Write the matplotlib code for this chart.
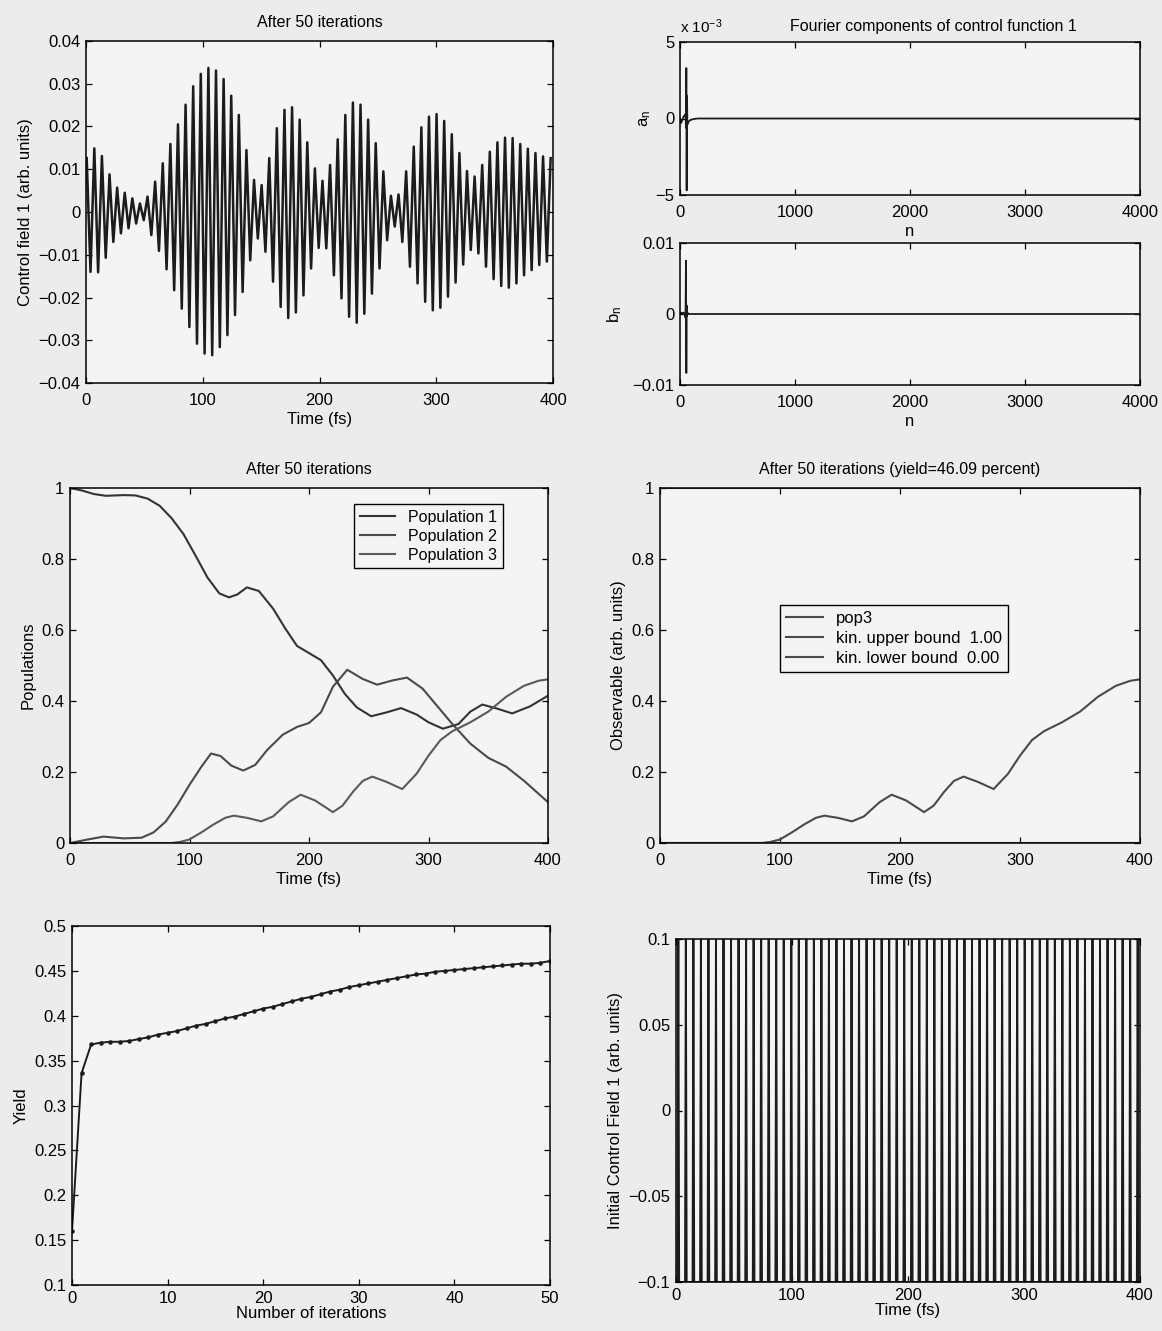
import numpy as np
import matplotlib
matplotlib.use("Agg")
import matplotlib.pyplot as plt
from matplotlib.ticker import FuncFormatter

plt.rcParams["font.family"] = ["Liberation Sans", "DejaVu Sans"]
plt.rcParams["mathtext.fontset"] = "custom"
plt.rcParams["mathtext.rm"] = "Liberation Sans"
plt.rcParams["mathtext.it"] = "Liberation Sans:italic"

# optimized control field: successive maxima / minima of each optical cycle
field_max = [0.0126, 0.0149, 0.0131, 0.0088, 0.0057, 0.0045, 0.0032, 0.0020, 0.0036, 0.0071,
             0.0114, 0.0159, 0.0205, 0.0251, 0.0294, 0.0323, 0.0337, 0.0331, 0.0311, 0.0272,
             0.0227, 0.0145, 0.0075, 0.0063, 0.0126, 0.0196, 0.0239, 0.0245, 0.0216, 0.0163,
             0.0102, 0.0073, 0.0110, 0.0170, 0.0227, 0.0256, 0.0251, 0.0216, 0.0161, 0.0095,
             0.0038, 0.0041, 0.0095, 0.0153, 0.0198, 0.0223, 0.0229, 0.0213, 0.0182, 0.0138,
             0.0096, 0.0083, 0.0110, 0.0141, 0.0163, 0.0174, 0.0173, 0.0159, 0.0148, 0.0138,
             0.0130, 0.0126]
field_min = [-0.0140, -0.0141, -0.0107, -0.0070, -0.0050, -0.0038, -0.0027, -0.0019, -0.0054, -0.0091,
             -0.0134, -0.0183, -0.0226, -0.0269, -0.0308, -0.0331, -0.0335, -0.0316, -0.0288, -0.0241,
             -0.0187, -0.0113, -0.0062, -0.0093, -0.0163, -0.0222, -0.0248, -0.0235, -0.0195, -0.0132,
             -0.0084, -0.0085, -0.0148, -0.0202, -0.0245, -0.0259, -0.0238, -0.0191, -0.0132, -0.0066,
             -0.0034, -0.0070, -0.0128, -0.0167, -0.0210, -0.0230, -0.0224, -0.0198, -0.0165, -0.0123,
             -0.0089, -0.0097, -0.0128, -0.0157, -0.0173, -0.0177, -0.0167, -0.0148, -0.0136, -0.0124,
             -0.0116]
field_t_first = 0.6
field_t_last = 398.0

# Fourier components
fourier_n = [0, 10, 20, 30, 40, 48, 52, 55, 58, 61, 64, 68, 75, 90, 110, 150, 4000]
a_n = [0.0, -0.0003, -0.0001, 0.0001, 0.0002, 0.0003, -0.0006, 0.0033, -0.0047, 0.0015,
       -0.0004, -0.0003, -0.0002, -0.0001, -0.00005, 0.0, 0.0]
b_n = [0.0, 0.0002, 0.0001, 0.0002, 0.0, -0.0005, 0.0075, -0.0083, 0.0012, -0.0003,
       0.0002, 0.0001, 0.0, 0.0, 0.0, 0.0, 0.0]

# populations
pop1_t = [0, 10, 20, 30, 45, 55, 65, 75, 85, 95, 105, 115, 125, 133, 140, 148, 158, 170, 180,
          190, 200, 210, 220, 230, 240, 252, 265, 277, 290, 300, 312, 325, 335, 345, 358, 370,
          385, 400]
pop1 = [1.000, 0.993, 0.983, 0.978, 0.980, 0.979, 0.970, 0.950, 0.915, 0.870, 0.810, 0.748,
        0.703, 0.692, 0.700, 0.720, 0.710, 0.660, 0.605, 0.555, 0.535, 0.515, 0.472, 0.420,
        0.382, 0.357, 0.368, 0.380, 0.362, 0.340, 0.322, 0.335, 0.370, 0.390, 0.378, 0.365,
        0.385, 0.415]
pop2_t = [0, 15, 28, 45, 60, 70, 80, 90, 100, 110, 118, 126, 135, 145, 155, 165, 178, 190,
          200, 210, 220, 232, 245, 257, 270, 282, 295, 305, 320, 335, 350, 365, 380, 400]
pop2 = [0.000, 0.010, 0.018, 0.013, 0.015, 0.030, 0.060, 0.108, 0.164, 0.215, 0.252, 0.245,
        0.218, 0.204, 0.220, 0.262, 0.305, 0.327, 0.338, 0.368, 0.440, 0.488, 0.462, 0.446,
        0.458, 0.466, 0.435, 0.395, 0.335, 0.280, 0.240, 0.215, 0.175, 0.115]
pop3_t = [0, 85, 92, 100, 110, 120, 130, 137, 148, 160, 170, 183, 193, 205, 220, 228, 237,
          245, 253, 265, 278, 290, 300, 310, 320, 335, 350, 365, 380, 392, 400]
pop3 = [0.000, 0.000, 0.003, 0.010, 0.030, 0.052, 0.071, 0.077, 0.071, 0.061, 0.075, 0.115,
        0.136, 0.120, 0.087, 0.105, 0.145, 0.175, 0.187, 0.172, 0.152, 0.195, 0.246, 0.290,
        0.315, 0.340, 0.370, 0.412, 0.443, 0.457, 0.461]
kin_upper = 1.00
kin_lower = 0.00

# yield per iteration
iterations = list(range(51))
yield_vals = [0.160, 0.336, 0.368, 0.370, 0.371, 0.371, 0.372, 0.374, 0.376, 0.379, 0.381,
              0.383, 0.386, 0.389, 0.391, 0.394, 0.397, 0.399, 0.402, 0.405, 0.408, 0.410,
              0.413, 0.416, 0.419, 0.421, 0.424, 0.427, 0.429, 0.432, 0.434, 0.436, 0.438,
              0.440, 0.442, 0.444, 0.446, 0.447, 0.449, 0.450, 0.451, 0.452, 0.453, 0.454,
              0.455, 0.456, 0.457, 0.458, 0.458, 0.459, 0.461]

# initial control field: one full-height swing per optical cycle
init_peaks = [0.1] * 62
init_t_first = 2.0
init_t_last = 398.0

W, H = 1162, 1331
fig = plt.figure(figsize=(W / 100, H / 100), dpi=100)
fig.patch.set_facecolor("#ececec")


def box(l, t, r, b):
    return fig.add_axes([l / W, 1 - b / H, (r - l) / W, (b - t) / H])


def fmt(v, pos):
    if abs(v) < 1e-12:
        return "0"
    return ("%g" % round(v, 6)).replace("-", "\u2212")


def style(ax, xpad=7):
    ax.set_facecolor("#f4f4f4")
    ax.tick_params(direction="in", top=True, right=True, length=4, width=0.9,
                   labelsize=12, pad=4)
    ax.tick_params(axis="x", pad=xpad)
    for s in ax.spines.values():
        s.set_linewidth(1.1)
    ax.xaxis.set_major_formatter(FuncFormatter(fmt))
    ax.yaxis.set_major_formatter(FuncFormatter(fmt))


LBL = 12
TTL = 11.5
dark = "#1c1c1c"

# --- top left: optimized field
ax1 = box(86, 41, 553, 383)
style(ax1)
ext = np.empty(len(field_max) + len(field_min))
ext[0::2] = field_max
ext[1::2] = field_min
ext_t = np.linspace(field_t_first, field_t_last, len(ext))
ax1.plot(ext_t, ext, color=dark, lw=1.8)
ax1.set_xlim(0, 400)
ax1.set_ylim(-0.04, 0.04)
ax1.set_xticks(np.arange(0, 401, 100))
ax1.set_yticks(np.arange(-0.04, 0.0401, 0.01))
ax1.set_title("After 50 iterations", fontsize=TTL, pad=10)
ax1.set_xlabel("Time (fs)", fontsize=LBL, labelpad=3)
ax1.set_ylabel("Control field 1 (arb. units)", fontsize=LBL)

# --- top right: Fourier components
ax2 = box(680, 42, 1140, 195)
style(ax2)
ax2.plot(fourier_n, np.array(a_n) * 1e3, color=dark, lw=1.3)
ax2.set_xlim(0, 4000)
ax2.set_ylim(-5, 5)
ax2.set_xticks(np.arange(0, 4001, 1000))
ax2.set_yticks([-5, 0, 5])
ax2.set_xlabel("n", fontsize=LBL, labelpad=3)
ax2.set_ylabel(r"a$_\mathregular{n}$", fontsize=LBL, labelpad=2)
ax2.text(0.0, 1.04, r"x 10$^{-3}$", transform=ax2.transAxes, fontsize=11, va="bottom")
ax2.text(0.55, 1.05, "Fourier components of control function 1", transform=ax2.transAxes,
         fontsize=TTL, ha="center", va="bottom")

ax3 = box(680, 243, 1140, 385)
style(ax3)
ax3.plot(fourier_n, b_n, color=dark, lw=1.3)
ax3.set_xlim(0, 4000)
ax3.set_ylim(-0.01, 0.01)
ax3.set_xticks(np.arange(0, 4001, 1000))
ax3.set_yticks([-0.01, 0, 0.01])
ax3.set_xlabel("n", fontsize=LBL, labelpad=3)
ax3.set_ylabel(r"b$_\mathregular{n}$", fontsize=LBL, labelpad=6)

legend_kw = dict(fontsize=11.5, fancybox=False, edgecolor="black", framealpha=1,
                 facecolor="#f4f4f4", handlelength=2.2, labelspacing=0.25, borderpad=0.35,
                 handletextpad=0.8, borderaxespad=0)

# --- middle left: populations
ax4 = box(70, 488, 548, 843)
style(ax4)
ax4.plot(pop1_t, pop1, color="#333333", lw=1.5, label="Population 1")
ax4.plot(pop2_t, pop2, color="#4a4a4a", lw=1.5, label="Population 2")
ax4.plot(pop3_t, pop3, color="#5a5a5a", lw=1.5, label="Population 3")
ax4.set_xlim(0, 400)
ax4.set_ylim(0, 1)
ax4.set_xticks(np.arange(0, 401, 100))
ax4.set_yticks(np.arange(0, 1.01, 0.2))
ax4.set_title("After 50 iterations", fontsize=TTL, pad=10)
ax4.set_xlabel("Time (fs)", fontsize=LBL, labelpad=3)
ax4.set_ylabel("Populations", fontsize=LBL)
leg = ax4.legend(loc="upper right", bbox_to_anchor=(0.905, 0.955), **legend_kw)
leg.get_frame().set_linewidth(1.0)

# --- middle right: observable
ax5 = box(660, 488, 1140, 843)
style(ax5)
ax5.plot(pop3_t, pop3, color="#4a4a4a", lw=1.5, label="pop3")
ax5.axhline(kin_upper, color="#4a4a4a", lw=1.5, label="kin. upper bound  %.2f" % kin_upper)
ax5.axhline(kin_lower, color="#4a4a4a", lw=1.5, label="kin. lower bound  %.2f" % kin_lower)
ax5.set_xlim(0, 400)
ax5.set_ylim(0, 1)
ax5.set_xticks(np.arange(0, 401, 100))
ax5.set_yticks(np.arange(0, 1.01, 0.2))
ax5.set_title("After 50 iterations (yield=46.09 percent)", fontsize=TTL, pad=10)
ax5.set_xlabel("Time (fs)", fontsize=LBL, labelpad=3)
ax5.set_ylabel("Observable (arb. units)", fontsize=LBL)
leg = ax5.legend(loc="upper left", bbox_to_anchor=(0.25, 0.67),
                 **dict(legend_kw, fontsize=12, labelspacing=0.3))
leg.get_frame().set_linewidth(1.0)

# --- bottom left: yield
ax6 = box(72, 926, 550, 1285)
style(ax6, xpad=4)
ax6.plot(iterations, yield_vals, color=dark, lw=1.4, marker=".", ms=4.5)
ax6.set_xlim(0, 50)
ax6.set_ylim(0.1, 0.5)
ax6.set_xticks(np.arange(0, 51, 10))
ax6.set_yticks(np.arange(0.1, 0.501, 0.05))
ax6.set_xlabel("Number of iterations", fontsize=LBL, labelpad=0)
ax6.set_ylabel("Yield", fontsize=LBL)

# --- bottom right: initial field
ax7 = box(676, 939, 1140, 1282)
style(ax7, xpad=4)
init_t = np.linspace(init_t_first, init_t_last, len(init_peaks))
ix, iy = [], []
for tk, a in zip(init_t, init_peaks):
    ix += [tk - 0.7, tk, tk + 0.7]
    iy += [-a, a, -a]
ax7.plot(ix, iy, color=dark, lw=1.4)
ax7.set_xlim(0, 400)
ax7.set_ylim(-0.1, 0.1)
ax7.set_xticks(np.arange(0, 401, 100))
ax7.set_yticks([-0.1, -0.05, 0, 0.05, 0.1])
ax7.set_xlabel("Time (fs)", fontsize=LBL, labelpad=0)
ax7.set_ylabel("Initial Control Field 1 (arb. units)", fontsize=LBL)

fig.savefig("out.png", dpi=100, facecolor=fig.get_facecolor())
